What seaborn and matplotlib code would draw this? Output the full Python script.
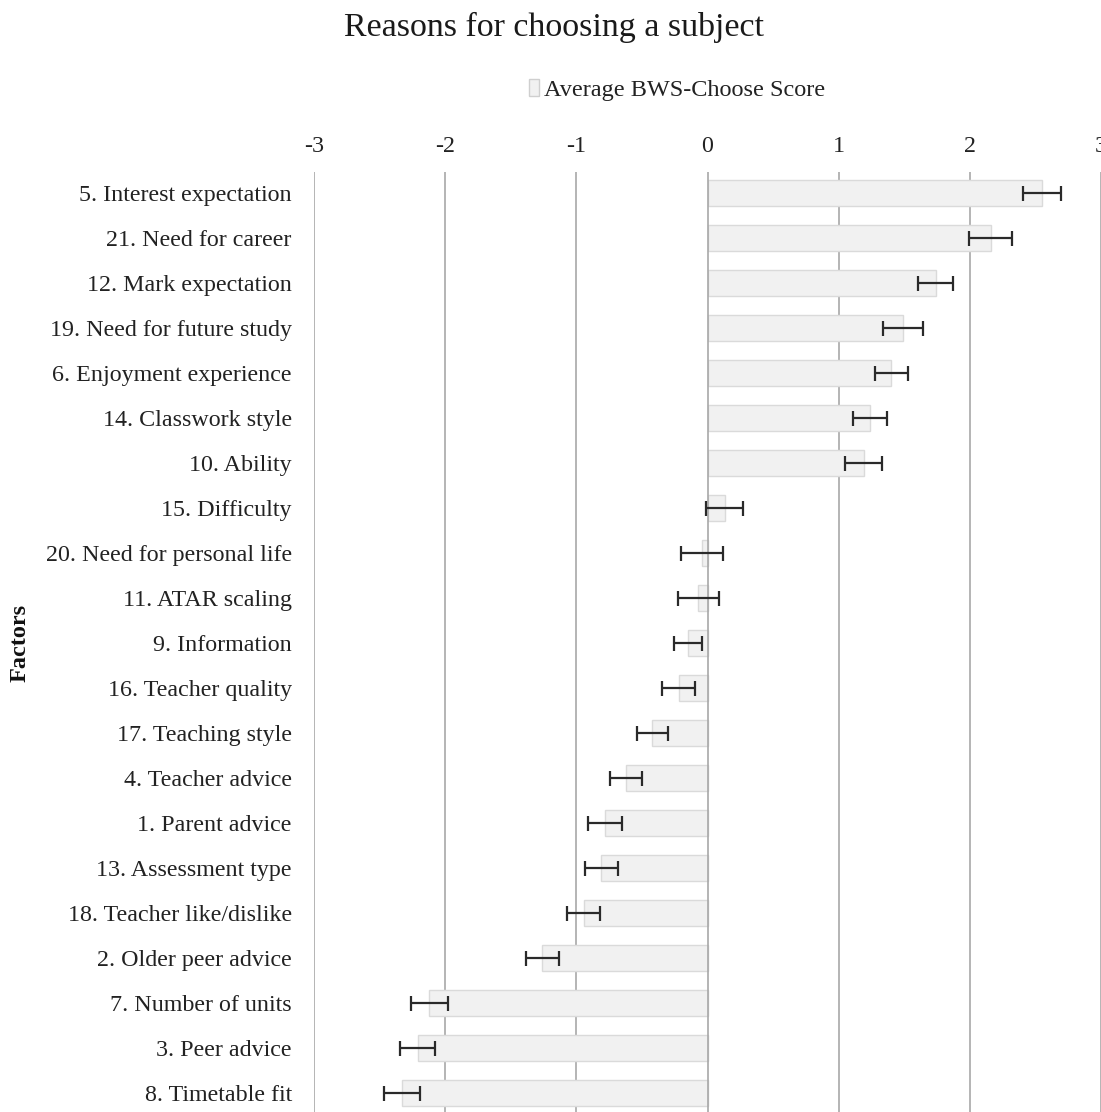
import matplotlib
matplotlib.use("Agg")
import matplotlib.pyplot as plt
import seaborn as sns
import pandas as pd
import numpy as np
from matplotlib.patches import Patch

factors = [
    "5. Interest expectation", "21. Need for career", "12. Mark expectation",
    "19. Need for future study", "6. Enjoyment experience", "14. Classwork style",
    "10. Ability", "15. Difficulty", "20. Need for personal life",
    "11. ATAR scaling", "9. Information", "16. Teacher quality",
    "17. Teaching style", "4. Teacher advice", "1. Parent advice",
    "13. Assessment type", "18. Teacher like/dislike", "2. Older peer advice",
    "7. Number of units", "3. Peer advice", "8. Timetable fit",
]
scores = [2.55, 2.16, 1.74, 1.49, 1.40, 1.24, 1.19, 0.13, -0.04, -0.07, -0.15,
          -0.22, -0.42, -0.62, -0.78, -0.81, -0.945, -1.26, -2.12, -2.21, -2.33]
errors = [0.145, 0.165, 0.135, 0.15, 0.125, 0.13, 0.14, 0.14, 0.16, 0.155, 0.105,
          0.125, 0.12, 0.12, 0.13, 0.125, 0.125, 0.125, 0.14, 0.135, 0.14]
x_ticks = [-3, -2, -1, 0, 1, 2, 3]

title = "Reasons for choosing a subject"
legend_label = "Average BWS-Choose Score"
axis_label = "Factors"

sns.set_theme(style="white")
plt.rcParams["font.family"] = ["Liberation Serif", "DejaVu Serif"]

df = pd.DataFrame({"Factor": factors, "Score": scores, "Err": errors})

fig = plt.figure(figsize=(11.01, 11.12), dpi=100)
ax = fig.add_axes([314 / 1101, 0.0, 1 - 314 / 1101, 1 - 172 / 1112])

for t in x_ticks:
    ax.axvline(t, color="#a8a8a8", lw=1.2, zorder=0 if t != 0 else 3)

sns.barplot(data=df, x="Score", y="Factor", order=factors, orient="h",
            color="#f1f1f1", edgecolor="#dadada", linewidth=1.0,
            width=0.59, errorbar=None, ax=ax, zorder=2, saturation=1)

ypos = np.arange(len(factors))
ax.errorbar(df["Score"], ypos, xerr=df["Err"], fmt="none", ecolor="#2a2a2a",
            elinewidth=1.6, capsize=5.4, capthick=1.6, zorder=4)

ax.set_xlim(-3, 3)
ax.set_ylim(20.42, -0.47)
ax.set_xticks(x_ticks)
ax.set_xticklabels([str(t) for t in x_ticks])
ax.xaxis.tick_top()
ax.tick_params(axis="x", length=0, pad=11, labelsize=17.3, colors="#222222")
ax.tick_params(axis="y", length=0, pad=16, labelsize=17.3, colors="#222222")
ax.set_xlabel("")
ax.set_ylabel("")
for s in ax.spines.values():
    s.set_visible(False)

fig.text(554 / 1101, 1 - 27 / 1112, title, ha="center", va="center",
         fontsize=24.5, color="#1a1a1a")
fig.text(20 / 1101, 1 - 643 / 1112, axis_label, ha="center", va="center",
         rotation=90, fontsize=17.5, fontweight="bold", color="#111111")

handle = Patch(facecolor="#f1f1f1", edgecolor="#cfcfcf", linewidth=1.0)
fig.legend([handle], [legend_label], loc="center", frameon=False,
           bbox_to_anchor=(677 / 1101, 1 - 90 / 1112), fontsize=17.5,
           handlelength=0.45, handleheight=0.7, handletextpad=0.2,
           labelcolor="#222222")

fig.savefig("out.png", dpi=100)
